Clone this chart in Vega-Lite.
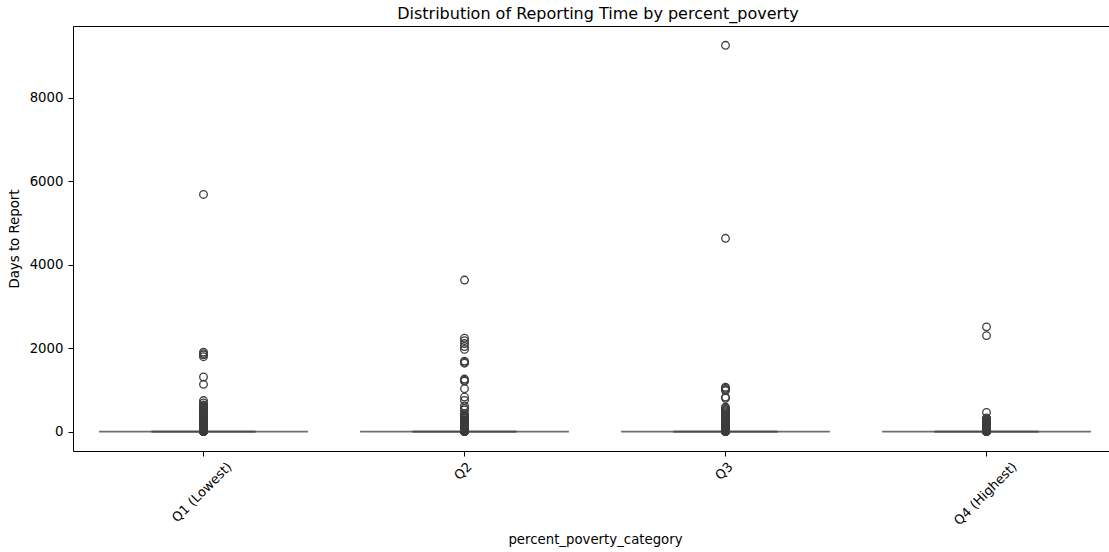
{
  "$schema": "https://vega.github.io/schema/vega-lite/v6.json",
  "width": 1036,
  "height": 425,
  "autosize": {"type": "none"},
  "padding": {"left": 73, "top": 26, "right": 0, "bottom": 101},
  "title": {
    "text": "Distribution of Reporting Time by percent_poverty",
    "fontSize": 16, "fontWeight": "normal", "font": "DejaVu Sans", "color": "black",
    "frame": "group", "anchor": "middle", "baseline": "alphabetic", "offset": -9, "dx": 7
  },
  "config": {
    "view": {"stroke": null},
    "font": "DejaVu Sans",
    "axis": {"grid": false, "domainColor": "black", "tickColor": "black", "labelColor": "black", "titleColor": "black", "labelFont": "DejaVu Sans", "titleFont": "DejaVu Sans"}
  },
  "datasets": {
    "boxes": [
      {"c": "Q1 (Lowest)", "q1": 0, "med": 0, "q3": 0, "lo": 0, "hi": 0},
      {"c": "Q2", "q1": 0, "med": 0, "q3": 0, "lo": 0, "hi": 0},
      {"c": "Q3", "q1": 0, "med": 0, "q3": 0, "lo": 0, "hi": 0},
      {"c": "Q4 (Highest)", "q1": 0, "med": 0, "q3": 0, "lo": 0, "hi": 0}
    ],
    "fliers": [
      {"c": "Q1 (Lowest)", "d": 5680}, {"c": "Q1 (Lowest)", "d": 1905}, {"c": "Q1 (Lowest)", "d": 1870}, {"c": "Q1 (Lowest)", "d": 1840}, {"c": "Q1 (Lowest)", "d": 1795}, {"c": "Q1 (Lowest)", "d": 1310}, {"c": "Q1 (Lowest)", "d": 1135}, {"c": "Q1 (Lowest)", "d": 745}, {"c": "Q1 (Lowest)", "d": 690}, {"c": "Q1 (Lowest)", "d": 640}, {"c": "Q1 (Lowest)", "d": 615}, {"c": "Q1 (Lowest)", "d": 590}, {"c": "Q1 (Lowest)", "d": 565}, {"c": "Q1 (Lowest)", "d": 540}, {"c": "Q1 (Lowest)", "d": 515}, {"c": "Q1 (Lowest)", "d": 495}, {"c": "Q1 (Lowest)", "d": 470}, {"c": "Q1 (Lowest)", "d": 450}, {"c": "Q1 (Lowest)", "d": 430}, {"c": "Q1 (Lowest)", "d": 410}, {"c": "Q1 (Lowest)", "d": 390}, {"c": "Q1 (Lowest)", "d": 370}, {"c": "Q1 (Lowest)", "d": 350}, {"c": "Q1 (Lowest)", "d": 335}, {"c": "Q1 (Lowest)", "d": 315}, {"c": "Q1 (Lowest)", "d": 300}, {"c": "Q1 (Lowest)", "d": 285}, {"c": "Q1 (Lowest)", "d": 270}, {"c": "Q1 (Lowest)", "d": 255}, {"c": "Q1 (Lowest)", "d": 240}, {"c": "Q1 (Lowest)", "d": 225}, {"c": "Q1 (Lowest)", "d": 210}, {"c": "Q1 (Lowest)", "d": 195}, {"c": "Q1 (Lowest)", "d": 182}, {"c": "Q1 (Lowest)", "d": 170}, {"c": "Q1 (Lowest)", "d": 158}, {"c": "Q1 (Lowest)", "d": 146}, {"c": "Q1 (Lowest)", "d": 135}, {"c": "Q1 (Lowest)", "d": 124}, {"c": "Q1 (Lowest)", "d": 114}, {"c": "Q1 (Lowest)", "d": 104}, {"c": "Q1 (Lowest)", "d": 95}, {"c": "Q1 (Lowest)", "d": 86}, {"c": "Q1 (Lowest)", "d": 78}, {"c": "Q1 (Lowest)", "d": 70}, {"c": "Q1 (Lowest)", "d": 62}, {"c": "Q1 (Lowest)", "d": 55}, {"c": "Q1 (Lowest)", "d": 48}, {"c": "Q1 (Lowest)", "d": 42}, {"c": "Q1 (Lowest)", "d": 36}, {"c": "Q1 (Lowest)", "d": 30}, {"c": "Q1 (Lowest)", "d": 25}, {"c": "Q1 (Lowest)", "d": 20}, {"c": "Q1 (Lowest)", "d": 16}, {"c": "Q1 (Lowest)", "d": 12}, {"c": "Q1 (Lowest)", "d": 9}, {"c": "Q1 (Lowest)", "d": 6}, {"c": "Q1 (Lowest)", "d": 4}, {"c": "Q1 (Lowest)", "d": 2}, {"c": "Q1 (Lowest)", "d": 1},
      {"c": "Q2", "d": 3630}, {"c": "Q2", "d": 2240}, {"c": "Q2", "d": 2180}, {"c": "Q2", "d": 2110}, {"c": "Q2", "d": 2040}, {"c": "Q2", "d": 1970}, {"c": "Q2", "d": 1690}, {"c": "Q2", "d": 1660}, {"c": "Q2", "d": 1640}, {"c": "Q2", "d": 1260}, {"c": "Q2", "d": 1230}, {"c": "Q2", "d": 1210}, {"c": "Q2", "d": 1030}, {"c": "Q2", "d": 830}, {"c": "Q2", "d": 750}, {"c": "Q2", "d": 615}, {"c": "Q2", "d": 560}, {"c": "Q2", "d": 520}, {"c": "Q2", "d": 430}, {"c": "Q2", "d": 400}, {"c": "Q2", "d": 375}, {"c": "Q2", "d": 350}, {"c": "Q2", "d": 330}, {"c": "Q2", "d": 310}, {"c": "Q2", "d": 290}, {"c": "Q2", "d": 272}, {"c": "Q2", "d": 255}, {"c": "Q2", "d": 238}, {"c": "Q2", "d": 222}, {"c": "Q2", "d": 206}, {"c": "Q2", "d": 192}, {"c": "Q2", "d": 178}, {"c": "Q2", "d": 165}, {"c": "Q2", "d": 152}, {"c": "Q2", "d": 140}, {"c": "Q2", "d": 128}, {"c": "Q2", "d": 117}, {"c": "Q2", "d": 106}, {"c": "Q2", "d": 96}, {"c": "Q2", "d": 87}, {"c": "Q2", "d": 78}, {"c": "Q2", "d": 70}, {"c": "Q2", "d": 62}, {"c": "Q2", "d": 54}, {"c": "Q2", "d": 47}, {"c": "Q2", "d": 40}, {"c": "Q2", "d": 34}, {"c": "Q2", "d": 28}, {"c": "Q2", "d": 23}, {"c": "Q2", "d": 18}, {"c": "Q2", "d": 14}, {"c": "Q2", "d": 10}, {"c": "Q2", "d": 7}, {"c": "Q2", "d": 4}, {"c": "Q2", "d": 2}, {"c": "Q2", "d": 1},
      {"c": "Q3", "d": 9250}, {"c": "Q3", "d": 4630}, {"c": "Q3", "d": 1065}, {"c": "Q3", "d": 1040}, {"c": "Q3", "d": 1010}, {"c": "Q3", "d": 985}, {"c": "Q3", "d": 830}, {"c": "Q3", "d": 800}, {"c": "Q3", "d": 590}, {"c": "Q3", "d": 560}, {"c": "Q3", "d": 530}, {"c": "Q3", "d": 505}, {"c": "Q3", "d": 480}, {"c": "Q3", "d": 455}, {"c": "Q3", "d": 430}, {"c": "Q3", "d": 405}, {"c": "Q3", "d": 385}, {"c": "Q3", "d": 365}, {"c": "Q3", "d": 345}, {"c": "Q3", "d": 325}, {"c": "Q3", "d": 305}, {"c": "Q3", "d": 288}, {"c": "Q3", "d": 270}, {"c": "Q3", "d": 253}, {"c": "Q3", "d": 237}, {"c": "Q3", "d": 221}, {"c": "Q3", "d": 206}, {"c": "Q3", "d": 192}, {"c": "Q3", "d": 178}, {"c": "Q3", "d": 165}, {"c": "Q3", "d": 152}, {"c": "Q3", "d": 140}, {"c": "Q3", "d": 128}, {"c": "Q3", "d": 117}, {"c": "Q3", "d": 106}, {"c": "Q3", "d": 96}, {"c": "Q3", "d": 87}, {"c": "Q3", "d": 78}, {"c": "Q3", "d": 70}, {"c": "Q3", "d": 62}, {"c": "Q3", "d": 54}, {"c": "Q3", "d": 47}, {"c": "Q3", "d": 40}, {"c": "Q3", "d": 34}, {"c": "Q3", "d": 28}, {"c": "Q3", "d": 23}, {"c": "Q3", "d": 18}, {"c": "Q3", "d": 14}, {"c": "Q3", "d": 10}, {"c": "Q3", "d": 7}, {"c": "Q3", "d": 4}, {"c": "Q3", "d": 2}, {"c": "Q3", "d": 1},
      {"c": "Q4 (Highest)", "d": 2510}, {"c": "Q4 (Highest)", "d": 2300}, {"c": "Q4 (Highest)", "d": 460}, {"c": "Q4 (Highest)", "d": 330}, {"c": "Q4 (Highest)", "d": 305}, {"c": "Q4 (Highest)", "d": 285}, {"c": "Q4 (Highest)", "d": 265}, {"c": "Q4 (Highest)", "d": 245}, {"c": "Q4 (Highest)", "d": 228}, {"c": "Q4 (Highest)", "d": 210}, {"c": "Q4 (Highest)", "d": 195}, {"c": "Q4 (Highest)", "d": 180}, {"c": "Q4 (Highest)", "d": 166}, {"c": "Q4 (Highest)", "d": 152}, {"c": "Q4 (Highest)", "d": 140}, {"c": "Q4 (Highest)", "d": 128}, {"c": "Q4 (Highest)", "d": 116}, {"c": "Q4 (Highest)", "d": 105}, {"c": "Q4 (Highest)", "d": 95}, {"c": "Q4 (Highest)", "d": 85}, {"c": "Q4 (Highest)", "d": 76}, {"c": "Q4 (Highest)", "d": 67}, {"c": "Q4 (Highest)", "d": 59}, {"c": "Q4 (Highest)", "d": 51}, {"c": "Q4 (Highest)", "d": 44}, {"c": "Q4 (Highest)", "d": 37}, {"c": "Q4 (Highest)", "d": 31}, {"c": "Q4 (Highest)", "d": 25}, {"c": "Q4 (Highest)", "d": 20}, {"c": "Q4 (Highest)", "d": 15}, {"c": "Q4 (Highest)", "d": 11}, {"c": "Q4 (Highest)", "d": 7}, {"c": "Q4 (Highest)", "d": 4}, {"c": "Q4 (Highest)", "d": 2}, {"c": "Q4 (Highest)", "d": 1}
    ]
  },
  "resolve": {"axis": {"x": "independent"}},
  "layer": [
    {
      "data": {"name": "boxes"},
      "mark": {"type": "bar", "width": {"band": 0.8}, "fill": "#3274a1", "stroke": "#6e6e6e", "strokeWidth": 1.8},
      "encoding": {
        "x": {"field": "c", "type": "nominal", "sort": ["Q1 (Lowest)", "Q2", "Q3", "Q4 (Highest)"],
              "scale": {"type": "band", "range": [0, 1044], "paddingInner": 0, "paddingOuter": 0},
              "axis": {"orient": "top", "labels": false, "ticks": false, "title": null, "domainColor": "black", "domainWidth": 1}},
        "y": {"field": "q1", "type": "quantitative", "title": "Days to Report", "scale": {"domain": [-462, 9712], "nice": false, "zero": false},
              "axis": {"values": [0, 2000, 4000, 6000, 8000], "format": "d", "tickSize": 5, "labelPadding": 5, "labelFontSize": 13.3, "titleFontSize": 13.3, "titleFontWeight": "normal", "titlePadding": 8, "domainWidth": 1}},
        "y2": {"field": "q3"}
      }
    },
    {
      "data": {"name": "boxes"},
      "mark": {"type": "tick", "color": "#474747", "thickness": 1.8, "size": 104},
      "encoding": {
        "x": {"field": "c", "type": "nominal", "sort": ["Q1 (Lowest)", "Q2", "Q3", "Q4 (Highest)"], "axis": null},
        "y": {"field": "lo", "type": "quantitative", "title": "Days to Report"}
      }
    },
    {
      "data": {"name": "boxes"},
      "mark": {"type": "tick", "color": "#474747", "thickness": 1.8, "size": 104},
      "encoding": {
        "x": {"field": "c", "type": "nominal", "sort": ["Q1 (Lowest)", "Q2", "Q3", "Q4 (Highest)"], "axis": null},
        "y": {"field": "hi", "type": "quantitative", "title": "Days to Report"}
      }
    },
    {
      "data": {"name": "fliers"},
      "mark": {"type": "point", "shape": "circle", "filled": false, "size": 58, "strokeWidth": 1.3, "color": "#3d3d3d", "opacity": 1},
      "encoding": {
        "x": {"field": "c", "type": "nominal", "sort": ["Q1 (Lowest)", "Q2", "Q3", "Q4 (Highest)"],
              "axis": {"orient": "bottom", "title": "percent_poverty_category", "labelAngle": -45, "labelAlign": "right", "labelBaseline": "top",
                       "labelOffset": {"expr": "datum.label == 'Q1 (Lowest)' ? 22 : datum.label == 'Q4 (Highest)' ? 24 : 1"},
                       "labelPadding": 4, "tickSize": 5, "labelFontSize": 13, "titleFontSize": 13.3, "titleFontWeight": "normal",
                       "labelOverlap": false, "titlePadding": 5, "domainWidth": 1}},
        "y": {"field": "d", "type": "quantitative", "title": "Days to Report"}
      }
    }
  ]
}
